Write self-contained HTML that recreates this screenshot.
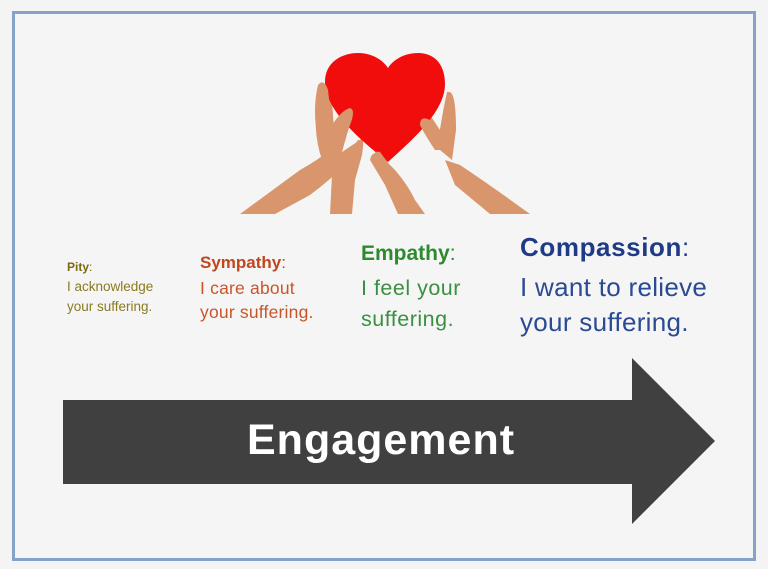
<!DOCTYPE html>
<html><head><style>
html,body{margin:0;padding:0;background:#f4f4f4;}
body{width:768px;height:569px;position:relative;overflow:hidden;font-family:"Liberation Sans",sans-serif;}
.frame{position:absolute;left:12px;top:11px;width:738px;height:544px;border:3px solid #86a2c6;background:#f5f5f5;}
.t{position:absolute;white-space:nowrap;}
</style></head><body>
<div class="frame"></div>
<svg width="768" height="569" style="position:absolute;left:0;top:0">
  <g fill="#d9956b">
    <path d="M240,214 L300,170 Q318,160 330,150 L345,165 Q330,180 310,195 L275,214 Z"/>
    <path d="M322,160 Q312,130 318,100 Q325,82 332,100 L334,130 Q340,120 350,112 L352,118 Q345,140 340,160 Z"/>
    <path d="M330,214 L332,175 Q330,160 345,150 L360,140 Q365,135 362,155 L355,180 L352,214 Z"/>
    <path d="M370,160 Q372,150 380,155 L395,170 Q408,185 415,200 L425,214 L398,214 L385,185 Z"/>
    <path d="M440,150 Q430,135 425,120 Q424,112 432,118 L440,130 Q445,100 450,92 Q456,95 456,130 L452,160 Z"/>
    <path d="M445,160 L460,165 Q490,185 530,214 L490,214 L455,185 Z"/>
  </g>
  <path d="M388,162 C360,140 325,110 325,82 C325,62 342,53 358,53 C372,53 383,60 388,68 C393,60 404,53 418,53 C436,53 445,66 445,84 C445,112 412,140 388,162 Z" fill="#f20d0d"/>
  <g fill="#d9956b">
    <path d="M318,140 Q312,110 318,85 Q324,78 328,90 L332,125 Q342,110 350,108 Q356,110 350,125 L340,150 Z"/>
    <path d="M435,150 Q425,135 420,125 Q420,115 430,120 L440,130 Q443,110 447,92 Q454,90 455,110 L452,150 Z"/>
    <path d="M345,170 Q350,150 358,140 Q364,140 362,150 L356,172 Z"/>
    <path d="M375,160 Q372,150 380,152 L392,168 L385,175 Z"/>
  </g>
  <polygon points="63,400 632,400 632,358 715,441 632,524 632,484 63,484" fill="#404040"/>
</svg>
<div class="t" style="left:247px;top:416px;font-size:43px;letter-spacing:1px;font-weight:bold;color:#fff;">Engagement</div>

<div class="t" style="left:67px;top:260px;font-size:12px;font-weight:bold;color:#7a6a10;">Pity<span style="font-weight:normal">:</span></div>
<div class="t" style="left:67px;top:277px;font-size:13.5px;line-height:20px;color:#8a7a20;">I acknowledge<br>your suffering.</div>

<div class="t" style="left:200px;top:253px;font-size:17px;font-weight:bold;color:#c0461c;">Sympathy<span style="font-weight:normal">:</span></div>
<div class="t" style="left:200px;top:276px;font-size:17.5px;letter-spacing:0.2px;line-height:24px;color:#c8552a;">I care about<br>your suffering.</div>

<div class="t" style="left:361px;top:242px;font-size:21px;font-weight:bold;color:#2e8a2e;">Empathy<span style="font-weight:normal">:</span></div>
<div class="t" style="left:361px;top:273px;font-size:21.5px;letter-spacing:0.5px;line-height:31px;color:#3a9040;">I feel your<br>suffering.</div>

<div class="t" style="left:520px;top:232px;font-size:26px;letter-spacing:0.6px;font-weight:bold;color:#1f3b86;">Compassion<span style="font-weight:normal">:</span></div>
<div class="t" style="left:520px;top:270px;font-size:26px;letter-spacing:0.3px;line-height:35px;color:#2a4a94;">I want to relieve<br>your suffering.</div>
</body></html>
